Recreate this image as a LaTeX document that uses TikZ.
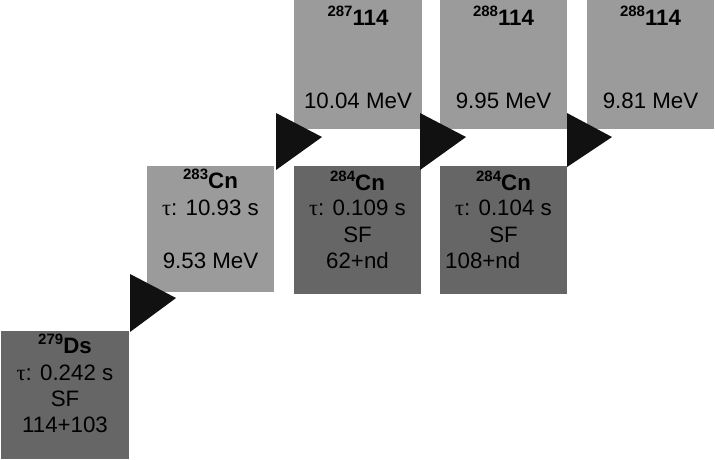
\documentclass[tikz,border=0pt]{standalone}
\usepackage{fontspec}
\setmainfont{Liberation Sans}
\newfontfamily\taufont{Liberation Serif}
\begin{document}
\begin{tikzpicture}[x=1pt,y=-1pt,
  light/.style={fill=lightgray, draw=none},
  dark/.style={fill=darkgray, draw=none},
  txt/.style={anchor=base, inner sep=0pt, font=\fontsize{22.3}{26}\selectfont},
  tri/.style={fill=arrowblack}]
\definecolor{lightgray}{HTML}{9B9B9B}
\definecolor{darkgray}{HTML}{666666}
\definecolor{arrowblack}{HTML}{111111}
\newcommand{\iso}[2]{\raisebox{8.5pt}{\fontsize{15}{15}\selectfont\bfseries #1}\textbf{#2}}
\newcommand{\tauc}{{\taufont τ}:}
\useasboundingbox (0,0) rectangle (715,459);
% boxes
\node[dark, inner sep=0pt, minimum width=128pt, minimum height=128pt] (ds) at (65,395) {};
\node[light, inner sep=0pt, minimum width=127pt, minimum height=126pt] (cnA) at (210.5,229) {};
\node[dark, inner sep=0pt, minimum width=127pt, minimum height=128pt] (cnB) at (357.5,230) {};
\node[dark, inner sep=0pt, minimum width=127pt, minimum height=128pt] (cnC) at (503.5,230) {};
\node[light, inner sep=0pt, minimum width=128pt, minimum height=129pt] (flA) at (358,64.5) {};
\node[light, inner sep=0pt, minimum width=127pt, minimum height=129pt] (flB) at (503.5,64.5) {};
\node[light, inner sep=0pt, minimum width=127pt, minimum height=129pt] (flC) at (650.5,64.5) {};
% arrows
\fill[tri] (130,274) -- (176,298) -- (130,332) -- cycle;
\fill[tri] (276,113) -- (322,137) -- (276,170) -- cycle;
\fill[tri] (420,113) -- (466,137) -- (420,170) -- cycle;
\fill[tri] (567,113) -- (612,137) -- (567,167) -- cycle;
% texts Ds
\node[txt] (t1) at (65,353) {\iso{279}{Ds}};
\node[txt] (t2) at (65,380) {\tauc{} 0.242 s};
\node[txt] (t3) at (65,406) {SF};
\node[txt] (t4) at (65,432) {114+103};
% 283Cn
\node[txt] (t5) at (210.5,188) {\iso{283}{Cn}};
\node[txt] (t6) at (210.5,215) {\tauc{} 10.93 s};
\node[txt] (t7) at (210.5,268) {9.53 MeV};
% 284Cn a
\node[txt] (t8) at (357.5,190) {\iso{284}{Cn}};
\node[txt] (t9) at (357.5,215) {\tauc{} 0.109 s};
\node[txt] (t10) at (357.5,242) {SF};
\node[txt] (t11) at (357.5,268) {62+nd};
% 284Cn b
\node[txt] (t12) at (503.5,190) {\iso{284}{Cn}};
\node[txt] (t13) at (503.5,215) {\tauc{} 0.104 s};
\node[txt] (t14) at (503.5,242) {SF};
\node[txt, anchor=base west] (t15) at (445,268) {108+nd};
% top row
\node[txt] (t16) at (358,25) {\iso{287}{114}};
\node[txt] (t17) at (358,108) {10.04 MeV};
\node[txt] (t18) at (503.5,25) {\iso{288}{114}};
\node[txt] (t19) at (503.5,108) {9.95 MeV};
\node[txt] (t20) at (650.5,25) {\iso{288}{114}};
\node[txt] (t21) at (650.5,108) {9.81 MeV};
\end{tikzpicture}
\end{document}
